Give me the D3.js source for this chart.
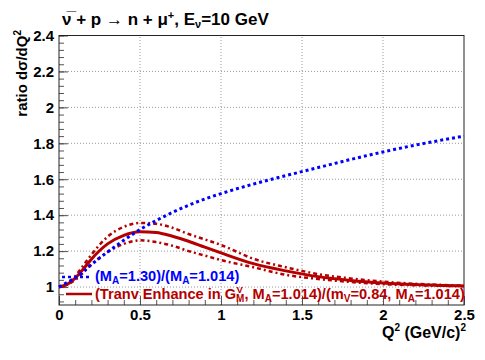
<!DOCTYPE html>
<html>
<head>
<meta charset="utf-8">
<script src="https://cdn.jsdelivr.net/npm/d3@7"></script>
<style>
  body { margin: 0; background: #fff; }
  text { font-family: "Liberation Sans", Arial, sans-serif; font-weight: bold; }
</style>
</head>
<body>
<svg id="chart" width="485" height="360"></svg>
<script>
// Q^2 grid (GeV/c)^2 and ratios
var q2 = [0, 0.05, 0.1, 0.15, 0.2, 0.3, 0.4, 0.5, 0.6, 0.7, 0.8, 0.9, 1.0, 1.2, 1.4, 1.6, 1.8, 2.0, 2.2, 2.5];
var ratioMA = [1.0, 1.025, 1.05, 1.085, 1.125, 1.195, 1.26, 1.32, 1.37, 1.415, 1.455, 1.49, 1.52, 1.573, 1.62, 1.665, 1.71, 1.752, 1.79, 1.84];
var ratioTE = [1.0, 1.015, 1.05, 1.1, 1.155, 1.24, 1.288, 1.308, 1.304, 1.283, 1.255, 1.222, 1.19, 1.13, 1.09, 1.058, 1.037, 1.023, 1.014, 1.006];
var ratioTEHigh = [1.0, 1.018, 1.06, 1.12, 1.18, 1.28, 1.335, 1.357, 1.352, 1.33, 1.295, 1.265, 1.234, 1.157, 1.11, 1.072, 1.048, 1.03, 1.018, 1.008];
var ratioTELow = [1.0, 1.012, 1.04, 1.08, 1.125, 1.195, 1.24, 1.26, 1.25, 1.23, 1.2, 1.175, 1.15, 1.11, 1.068, 1.045, 1.028, 1.016, 1.01, 1.005];

var xTicks = [0, 0.5, 1, 1.5, 2, 2.5];
var xTickLabels = ["0", "0.5", "1", "1.5", "2", "2.5"];
var yTicks = [1, 1.2, 1.4, 1.6, 1.8, 2, 2.2, 2.4];
var yTickLabels = ["1", "1.2", "1.4", "1.6", "1.8", "2", "2.2", "2.4"];

var blue = "#0000ff";
var red = "#b40000";

var svg = d3.select("#chart");
svg.append("rect").attr("width", 485).attr("height", 360).attr("fill", "#fff");

var x = d3.scaleLinear().domain([0, 2.5]).range([59, 464]);
var y = d3.scaleLinear().domain([0.9, 2.4]).range([305, 35.5]);

// grid
svg.append("g").selectAll("line").data(xTicks.slice(1, -1)).enter().append("line")
  .attr("x1", d => x(d)).attr("x2", d => x(d))
  .attr("y1", y(0.9)).attr("y2", y(2.4))
  .attr("stroke", "#999").attr("stroke-dasharray", "1,2");
svg.append("g").selectAll("line").data(yTicks.slice(0, -1)).enter().append("line")
  .attr("x1", x(0)).attr("x2", x(2.5))
  .attr("y1", d => y(d)).attr("y2", d => y(d))
  .attr("stroke", "#999").attr("stroke-dasharray", "1,2");

// axes: major ticks with labels, minor ticks without
var xMinor = d3.range(0, 2.5001, 0.1);
var yMinor = d3.range(0.92, 2.4001, 0.04);

svg.append("g").attr("transform", "translate(0,305)")
  .call(d3.axisBottom(x).tickValues(xTicks).tickSizeInner(-9).tickSizeOuter(0).tickPadding(4)
    .tickFormat((d, i) => xTickLabels[i]));
svg.append("g").attr("transform", "translate(0,305)")
  .call(d3.axisBottom(x).tickValues(xMinor).tickSizeInner(-5).tickSizeOuter(0).tickFormat(""));

svg.append("g").attr("transform", "translate(59,0)")
  .call(d3.axisLeft(y).tickValues(yTicks).tickSizeInner(-9).tickSizeOuter(0).tickPadding(5)
    .tickFormat((d, i) => yTickLabels[i]));
svg.append("g").attr("transform", "translate(59,0)")
  .call(d3.axisLeft(y).tickValues(yMinor).tickSizeInner(-5).tickSizeOuter(0).tickFormat(""));

svg.selectAll(".domain").remove();
svg.selectAll(".tick line").attr("stroke", "#555");
svg.selectAll(".tick text").attr("font-size", 15).attr("fill", "#000")
  .style("font-family", "Liberation Sans").style("font-weight", "bold");

// frame
svg.append("rect").attr("x", x(0)).attr("y", y(2.4))
  .attr("width", x(2.5) - x(0)).attr("height", y(0.9) - y(2.4))
  .attr("fill", "none").attr("stroke", "#222");

// curves
var rows = q2.map((q, i) => ({q: q, ma: ratioMA[i], te: ratioTE[i], hi: ratioTEHigh[i], lo: ratioTELow[i]}));
function line(key) {
  return d3.line().x(d => x(d.q)).y(d => y(d[key])).curve(d3.curveMonotoneX);
}
svg.append("path").datum(rows).attr("d", line("hi"))
  .attr("fill", "none").attr("stroke", red).attr("stroke-width", 2.5).attr("stroke-dasharray", "4,3,2,3");
svg.append("path").datum(rows).attr("d", line("lo"))
  .attr("fill", "none").attr("stroke", red).attr("stroke-width", 2.5).attr("stroke-dasharray", "4,3,2,3");
svg.append("path").datum(rows).attr("d", line("te"))
  .attr("fill", "none").attr("stroke", red).attr("stroke-width", 3);
svg.append("path").datum(rows).attr("d", line("ma"))
  .attr("fill", "none").attr("stroke", blue).attr("stroke-width", 3).attr("stroke-dasharray", "3,3");

// legend
svg.append("line").attr("x1", 62).attr("x2", 92).attr("y1", 277).attr("y2", 277)
  .attr("stroke", blue).attr("stroke-width", 2.5).attr("stroke-dasharray", "3,3");
var t1 = svg.append("text").attr("x", 95).attr("y", 281).attr("font-size", 14.6).attr("fill", blue);
t1.append("tspan").text("(M");
t1.append("tspan").attr("font-size", 10).attr("dy", 3).text("A");
t1.append("tspan").attr("dy", -3).text("=1.30)/(M");
t1.append("tspan").attr("font-size", 10).attr("dy", 3).text("A");
t1.append("tspan").attr("dy", -3).text("=1.014)");

svg.append("line").attr("x1", 66).attr("x2", 92).attr("y1", 294).attr("y2", 294)
  .attr("stroke", red).attr("stroke-width", 2.5);
var t2 = svg.append("text").attr("x", 95).attr("y", 299).attr("font-size", 14.6).attr("fill", red);
t2.append("tspan").text("(Tranv Enhance in G");
var gx = 95 + t2.node().getComputedTextLength();
t2.append("tspan").attr("font-size", 10).attr("dy", 3).text("M");
t2.append("tspan").attr("dy", -3).text(", M");
t2.append("tspan").attr("font-size", 10).attr("dy", 3).text("A");
t2.append("tspan").attr("dy", -3).text("=1.014)/(m");
t2.append("tspan").attr("font-size", 10).attr("dy", 3).text("V");
t2.append("tspan").attr("dy", -3).text("=0.84, M");
t2.append("tspan").attr("font-size", 10).attr("dy", 3).text("A");
t2.append("tspan").attr("dy", -3).text("=1.014)");
svg.append("text").attr("x", gx + 0.5).attr("y", 292.5).attr("font-size", 9.5).attr("fill", red).text("V");

// title
var tt = svg.append("text").attr("x", 62).attr("y", 25).attr("font-size", 17).attr("fill", "#000");
tt.append("tspan").text("\u03BD\u0305 + p \u2192 n + \u03BC");
tt.append("tspan").attr("font-size", 11).attr("dy", -6).text("+");
tt.append("tspan").attr("dy", 6).text(", E");
tt.append("tspan").attr("font-size", 11).attr("dy", 3).text("\u03BD");
tt.append("tspan").attr("dy", -3).text("=10 GeV");

// axis titles
var xt = svg.append("text").attr("x", 466).attr("y", 338).attr("font-size", 16).attr("text-anchor", "end");
xt.append("tspan").text("Q");
xt.append("tspan").attr("font-size", 10).attr("dy", -7).text("2");
xt.append("tspan").attr("dy", 7).text(" (GeV/c)");
xt.append("tspan").attr("font-size", 10).attr("dy", -7).text("2");

var yt = svg.append("text").attr("transform", "translate(27,30) rotate(-90)")
  .attr("font-size", 15).attr("text-anchor", "end");
yt.append("tspan").text("ratio d\u03C3/dQ");
yt.append("tspan").attr("font-size", 10).attr("dy", -6).text("2");
</script>
</body>
</html>
